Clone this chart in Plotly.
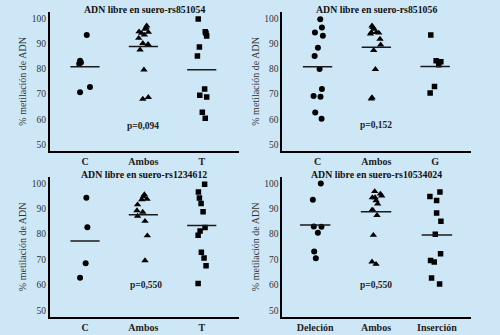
import plotly.graph_objects as go

# ---------------- data ----------------
titles = ["ADN libre en suero-rs851054", "ADN libre en suero-rs851056",
          "ADN libre en suero-rs1234612", "ADN libre en suero-rs10534024"]
categories = [["C", "Ambos", "T"], ["C", "Ambos", "G"],
              ["C", "Ambos", "T"], ["Deleción", "Ambos", "Inserción"]]
p_values = ["p=0,094", "p=0,152", "p=0,550", "p=0,550"]
p_y = [57.5, 57.8, 60.0, 60.1]
p_x = [1.0, 1.0, 1.05, 1.0]

# panel 1: rs851054
p1_vals = [
    [93.4, 83.2, 82.5, 82.0, 70.7, 72.8],
    [94.7, 94.1, 96.3, 97.0, 95.7, 94.5, 93.4, 92.1, 90.1, 89.7, 87.5, 79.6, 68.0, 68.7],
    [99.7, 94.7, 94.1, 93.0, 88.6, 85.1, 72.0, 69.5, 68.8, 62.8, 60.4],
]
p1_jit = [
    [0.03, -0.085, -0.07, -0.1, -0.085, 0.085],
    [-0.074, -0.03, 0.045, 0.057, 0.03, 0.085, 0.017, -0.08, -0.01, 0.08, -0.057, 0.01, -0.01, 0.085],
    [-0.06, 0.06, 0.074, 0.085, -0.04, -0.074, 0.05, -0.034, 0.085, 0.01, 0.06],
]
p1_mean = [80.8, 88.8, 79.6]

# panel 2: rs851056
p2_vals = [
    [99.6, 96.4, 94.4, 93.1, 88.3, 85.1, 79.9, 72.0, 69.2, 68.9, 62.7, 60.2],
    [97.0, 96.4, 95.7, 93.8, 94.4, 94.4, 94.2, 91.8, 89.5, 87.3, 79.8, 68.1, 68.6],
    [93.4, 83.2, 82.8, 81.6, 73.0, 70.4],
]
p2_jit = [
    [0.045, 0.074, -0.045, 0.09, 0.006, -0.05, 0.034, 0.074, -0.068, 0.05, -0.04, 0.068],
    [-0.074, -0.057, -0.04, -0.1, -0.085, 0.0, 0.04, 0.062, 0.074, -0.045, -0.017, -0.085, -0.074],
    [-0.074, 0.017, 0.097, 0.062, -0.011, -0.085],
]
p2_mean = [80.8, 88.5, 80.9]

# panel 3: rs1234612
p3_vals = [
    [94.3, 82.7, 68.6, 62.8],
    [95.6, 94.8, 93.8, 93.6, 91.6, 89.3, 88.7, 87.1, 85.1, 79.4, 69.6],
    [99.6, 96.6, 94.2, 92.1, 88.8, 82.6, 81.2, 79.6, 72.9, 70.6, 67.6, 60.6],
]
p3_jit = [
    [0.023, 0.04, 0.011, -0.085],
    [0.017, 0.0, 0.062, -0.028, -0.1, -0.11, -0.011, -0.1, 0.028, 0.068, 0.028],
    [0.05, -0.057, -0.04, -0.011, 0.023, 0.057, -0.028, -0.062, -0.006, 0.04, 0.074, -0.062],
]
p3_mean = [77.3, 87.6, 83.4]

# panel 4: rs10534024
p4_vals = [
    [99.9, 93.5, 83.0, 82.9, 80.6, 73.2, 70.5],
    [96.8, 95.8, 95.1, 94.4, 94.4, 93.2, 91.9, 89.4, 89.5, 87.4, 79.6, 69.1, 68.2],
    [96.6, 94.8, 93.2, 88.3, 85.1, 80.0, 72.3, 69.6, 69.0, 62.7, 60.4],
]
p4_jit = [
    [0.093, -0.038, -0.022, 0.104, 0.044, -0.016, 0.011],
    [-0.022, 0.071, 0.093, -0.06, -0.016, 0.0, 0.027, -0.05, -0.066, 0.016, -0.044, -0.066, 0.0],
    [0.05, -0.115, -0.005, -0.005, 0.066, -0.027, 0.06, -0.104, -0.044, -0.088, 0.044],
]
p4_mean = [83.6, 88.8, 79.7]

panels_vals = [p1_vals, p2_vals, p3_vals, p4_vals]
panels_jit = [p1_jit, p2_jit, p3_jit, p4_jit]
panels_mean = [p1_mean, p2_mean, p3_mean, p4_mean]
yticks = [50, 60, 70, 80, 90, 100]

# ---------------- style ----------------
BG = "#cee7f7"
SERIF = "Liberation Serif"
symbols = ["circle", "triangle-up", "square"]
msizes = [6, 6.5, 5.5]
half_w = 0.25

x_domains = [[0.1, 0.477], [0.5646, 0.942], [0.1, 0.477], [0.5646, 0.942]]
y_domains = [[0.549, 0.965], [0.549, 0.965], [0.0537, 0.4725], [0.0537, 0.4725]]
x_ranges = [[-0.6, 2.63], [-0.6, 2.61], [-0.6, 2.63], [-0.54, 2.56]]
title_y = [0.972, 0.973, 0.4797, 0.478]

fig = go.Figure()
annotations = []
layout_axes = {}

for k in range(4):
    sfx = "" if k == 0 else str(k + 1)
    xa, ya = "x" + sfx, "y" + sfx
    for g in range(3):
        xs = [g + j for j in panels_jit[k][g]]
        fig.add_trace(go.Scatter(
            x=xs, y=panels_vals[k][g], mode="markers", xaxis=xa, yaxis=ya,
            marker=dict(symbol=symbols[g], size=msizes[g], color="black",
                        line=dict(width=0)),
            showlegend=False, hoverinfo="y"))
        m = panels_mean[k][g]
        fig.add_trace(go.Scatter(
            x=[g - half_w, g + half_w], y=[m, m], mode="lines",
            xaxis=xa, yaxis=ya, line=dict(color="#1a1a1a", width=1.5),
            showlegend=False, hoverinfo="skip"))

    layout_axes["xaxis" + sfx] = dict(
        domain=x_domains[k], range=x_ranges[k], anchor=ya,
        tickmode="array", tickvals=[0, 1, 2],
        ticktext=["<b>" + c + "</b>" for c in categories[k]],
        showline=True, linecolor="black", linewidth=2, ticks="",
        showgrid=False, zeroline=False,
        tickfont=dict(family=SERIF, size=10, color="#222222"),
        fixedrange=True)
    layout_axes["yaxis" + sfx] = dict(
        domain=y_domains[k], range=[47.4, 102.6], anchor=xa,
        tickmode="array", tickvals=yticks,
        showline=True, linecolor="black", linewidth=2, ticks="",
        showgrid=False, zeroline=False,
        tickfont=dict(family=SERIF, size=9.5, color="#333333"),
        title=dict(text="% metilación de ADN", standoff=3,
                   font=dict(family=SERIF, size=10, color="#333333")),
        fixedrange=True)

    annotations.append(dict(
        text="<b>" + titles[k] + "</b>", xref="paper", yref="paper",
        x=(x_domains[k][0] + x_domains[k][1]) / 2, y=title_y[k],
        xanchor="center", yanchor="middle", showarrow=False,
        font=dict(family=SERIF, size=9.8, color="#111111")))
    annotations.append(dict(
        text="<b>" + p_values[k] + "</b>", xref=xa, yref=ya,
        x=p_x[k], y=p_y[k], xanchor="center", yanchor="middle",
        showarrow=False, font=dict(family=SERIF, size=9.5, color="#222222")))

fig.update_layout(
    width=500, height=335,
    margin=dict(l=0, r=0, t=0, b=0),
    paper_bgcolor=BG, plot_bgcolor=BG,
    annotations=annotations,
    **layout_axes,
)

fig.write_html("out.html", config={"displayModeBar": False},
               post_script="document.body.style.margin='0';"
                           "document.body.style.padding='0';"
                           "document.body.style.background='" + BG + "';")
